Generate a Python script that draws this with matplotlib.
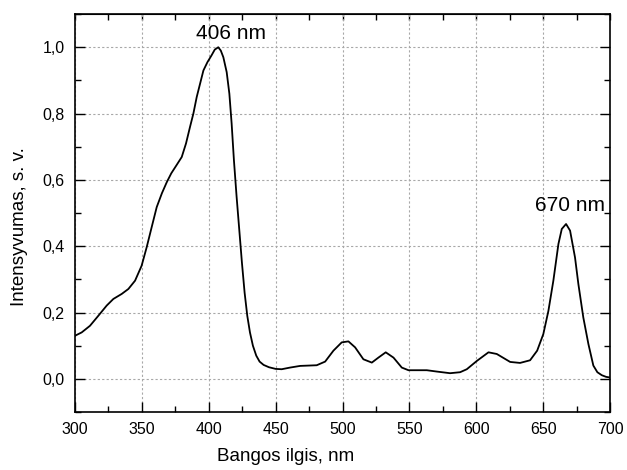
import numpy as np
import matplotlib
matplotlib.use("Agg")
import matplotlib.pyplot as plt
from matplotlib.ticker import MultipleLocator, FuncFormatter

plt.rcParams['font.family'] = ['Liberation Sans', 'DejaVu Sans']

# spectrum (wavelength nm, intensity a.u.)
wavelength = [300, 305, 311.2, 317.4, 323.7, 328.7, 334.9, 339.9, 344.9, 349.8, 353.6,
              357.3, 361.1, 365, 368.6, 372, 376, 379.8, 383, 386, 388.5, 391, 393.5,
              396, 399, 402, 404.5, 407.1, 409, 410.9, 413.4, 415.4, 417.1, 418.8, 420.8,
              422.8, 424.8, 426.8, 428.8, 430.8, 433, 435.5, 438, 441, 445, 450, 454.5,
              460.8, 468.3, 480.7, 487, 493.2, 499.4, 504.4, 509.4, 515.6, 521.9, 526.8,
              532.3, 538.1, 544.3, 549.3, 563, 570.4, 580.4, 587.9, 592.9, 600.4, 609.1,
              615.3, 625.3, 632.7, 640.2, 645.5, 650.1, 653.9, 657.6, 661.4, 663.9, 667.1,
              670.1, 673.8, 676.3, 680, 683.8, 687.5, 690.5, 693.8, 697, 700]
intensity = [0.130, 0.140, 0.160, 0.190, 0.221, 0.241, 0.256, 0.271, 0.296, 0.341, 0.397,
             0.457, 0.518, 0.56, 0.593, 0.62, 0.645, 0.669, 0.71, 0.76, 0.80, 0.85, 0.89,
             0.93, 0.955, 0.975, 0.993, 1.0, 0.99, 0.97, 0.925, 0.86, 0.77, 0.66, 0.55,
             0.45, 0.35, 0.26, 0.19, 0.14, 0.10, 0.07, 0.052, 0.042, 0.035, 0.030, 0.029,
             0.034, 0.039, 0.041, 0.052, 0.085, 0.110, 0.113, 0.095, 0.059, 0.049, 0.064,
             0.080, 0.064, 0.034, 0.026, 0.026, 0.022, 0.017, 0.020, 0.029, 0.054, 0.080,
             0.075, 0.051, 0.048, 0.056, 0.085, 0.135, 0.205, 0.296, 0.407, 0.452, 0.467,
             0.447, 0.366, 0.286, 0.185, 0.105, 0.040, 0.020, 0.011, 0.006, 0.004]

peak_labels = ["406 nm", "670 nm"]
peak_pos = [(416.5, 1.012), (670, 0.495)]

fig = plt.figure(figsize=(6.27, 4.70), dpi=100)
ax = fig.add_axes([0.1196, 0.1234, 0.8534, 0.8466])

ax.plot(wavelength, intensity, color='black', linewidth=1.3)

ax.set_xlim(300, 700)
ax.set_ylim(-0.1, 1.1)
ax.xaxis.set_major_locator(MultipleLocator(50))
ax.xaxis.set_minor_locator(MultipleLocator(25))
ax.yaxis.set_major_locator(MultipleLocator(0.2))
ax.yaxis.set_minor_locator(MultipleLocator(0.1))
ax.yaxis.set_major_formatter(FuncFormatter(lambda v, p: f"{v:.1f}".replace('.', ',').replace('-0,0', '0,0')))

ax.tick_params(which='both', direction='in', labelsize=11.5, width=1.0)
ax.tick_params(which='major', length=7, right=True, pad=7.5)
ax.tick_params(which='minor', length=4, right=True)
ax.tick_params(axis='x', which='both', top=False)

top = ax.secondary_xaxis('top')
top.set_xticks(np.arange(300, 701, 25))
top.tick_params(direction='in', length=4, width=1.0, labeltop=False)
top.set_xticklabels([])

for s in ax.spines.values():
    s.set_linewidth(1.2)

ax.grid(True, which='major', color='#a8a8a8', linestyle=(0, (2, 2)), linewidth=0.8)

ax.set_xlabel("Bangos ilgis, nm", fontsize=13.5)
ax.set_ylabel("Intensyvumas, s. v.", fontsize=13.5)
ax.xaxis.set_label_coords(0.393, -0.09)
ax.yaxis.set_label_coords(-0.087, 0.467)

for txt, (x, y) in zip(peak_labels, peak_pos):
    ax.text(x, y, txt, ha='center', va='bottom', fontsize=15)

fig.savefig("out.png", dpi=100)
